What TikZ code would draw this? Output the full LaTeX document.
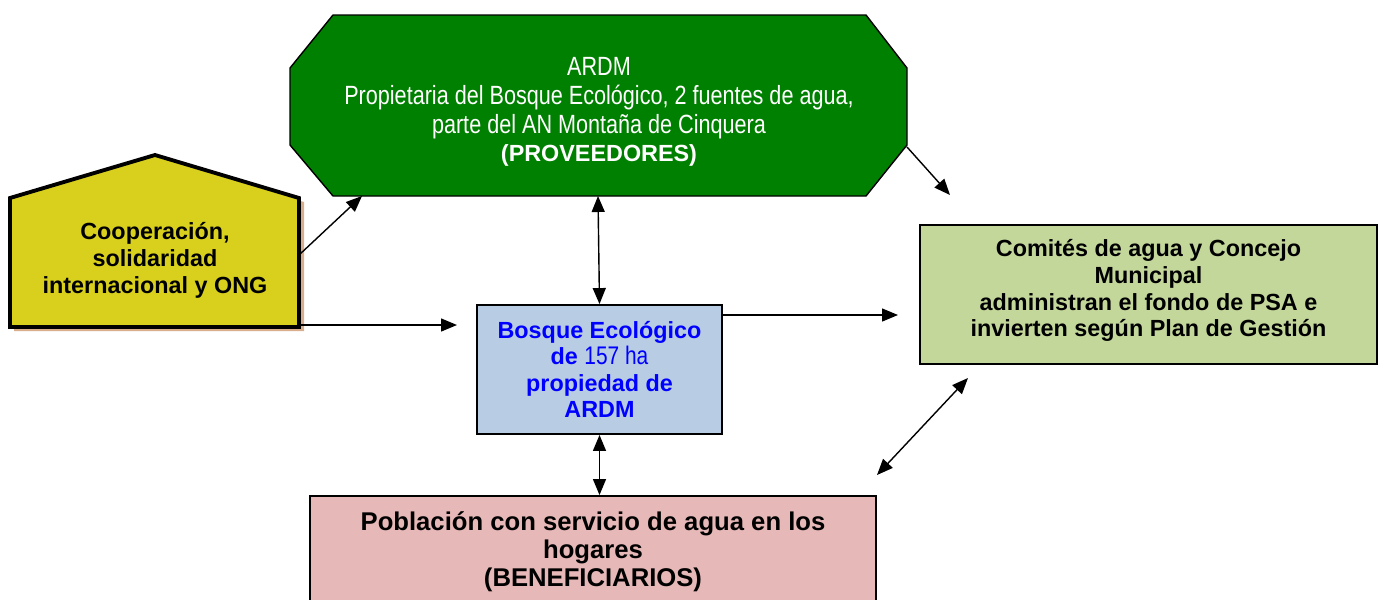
\documentclass[tikz,border=0pt]{standalone}
\usepackage{fontspec}
\setmainfont{Liberation Sans}
\newfontfamily\narrowfont[FakeStretch=0.82]{Liberation Sans}
\usetikzlibrary{arrows.meta,positioning,calc}
\definecolor{ardmgreen}{HTML}{008000}
\definecolor{coopyellow}{HTML}{D8D01C}
\definecolor{coopshadow}{HTML}{D9AE8C}
\definecolor{bosqueblue}{HTML}{B8CCE4}
\definecolor{comitegreen}{HTML}{C4D79B}
\definecolor{poblpink}{HTML}{E6B8B7}
\definecolor{textblue}{HTML}{0000FF}
\tikzset{
  >={Triangle[length=3.2mm,width=2.6mm]},
  every picture/.append style={line width=0.8pt},
}
\tikzset{
  box/.style={draw, line width=1.1pt, align=center, inner sep=0pt},
  arr/.style={->, line width=0.8pt},
  biarr/.style={<->, line width=0.8pt}
}
\begin{document}
\begin{tikzpicture}[
  x=0.02cm, y=-0.02cm,
  octa/.style={draw, fill=ardmgreen, line width=0.8pt},
  house/.style={draw, fill=coopyellow, line width=2.2pt, line join=miter},
  txtbold/.style={align=center, font=\bfseries\fontsize{13.3}{15.3}\selectfont}
]
\useasboundingbox (0,0) rectangle (1384,599);

% Provider (octagon)
\draw[octa] (333,15) -- (866,15) -- (907,68) -- (907,145) -- (866,196)
  -- (333,196) -- (290,145) -- (290,68) -- cycle;
\coordinate (ardmsw) at (362,196);
\coordinate (ardms) at (598,196);
\coordinate (ardmse) at (907,147);
\node[align=center, text=white, font=\narrowfont\fontsize{15}{16.4}\selectfont] (ardm) at (599,112)
  {ARDM\\Propietaria del Bosque Ecológico, 2 fuentes de agua,\\parte del AN Montaña de Cinquera\\
   {\normalfont\bfseries\fontsize{13.3}{16.4}\selectfont (PROVEEDORES)}};

% Cooperation (house shape with shadow)
\fill[coopshadow] (14,202) -- (159,159) -- (304,202) -- (304,331) -- (14,331) -- cycle;
\draw[house] (10,198) -- (155,155) -- (299,198) -- (299,327) -- (10,327) -- cycle;
\coordinate (coopr) at (299,255);
\coordinate (coopse) at (299,325);
\node[txtbold] (coop) at (155,260) {Cooperación,\\solidaridad\\internacional y ONG};

% Forest
\node[box, fill=bosqueblue, minimum width=4.9cm, minimum height=2.58cm, text=textblue,
  font=\bfseries\fontsize{13.3}{15}\selectfont] (bosque) at (599.5,369.5)
  {Bosque Ecológico\\de {\narrowfont\mdseries\fontsize{14.5}{15}\selectfont 157 ha}\\propiedad de\\ARDM};

% Water committees
\node[box, fill=comitegreen, minimum width=9.14cm, minimum height=2.78cm] (comite) at (1148.5,294.5) {};
\node[txtbold] (comitetxt) at (1148.5,290.5)
  {Comités de agua y Concejo\\Municipal\\administran el fondo de PSA e\\invierten según Plan de Gestión};

% Beneficiaries
\node[box, fill=poblpink, minimum width=11.32cm, minimum height=2.24cm,
  font=\bfseries\fontsize{14.6}{15.9}\selectfont] (pobl) at (593,552)
  {Población con servicio de agua en los\\hogares\\(BENEFICIARIOS)};

% Free arrow ends
\coordinate (comitein) at (898,315);
\coordinate (comitetop) at (950,195);
\coordinate (comitebot) at (968,378);
\coordinate (poblne) at (877,475);
\coordinate (bosquein) at (457,325);

% Connectors
\draw[arr] (coopr) -- (ardmsw);
\draw[arr] (coopse) -- (bosquein);
\draw[biarr] (ardms) -- (bosque.north);
\draw[arr] (bosque.north east |- comitein) -- (comitein);
\draw[arr] (ardmse) -- (comitetop);
\draw[biarr] (bosque.south) -- (pobl.north -| bosque.south);
\draw[biarr] (comitebot) -- (poblne);

\end{tikzpicture}
\end{document}
